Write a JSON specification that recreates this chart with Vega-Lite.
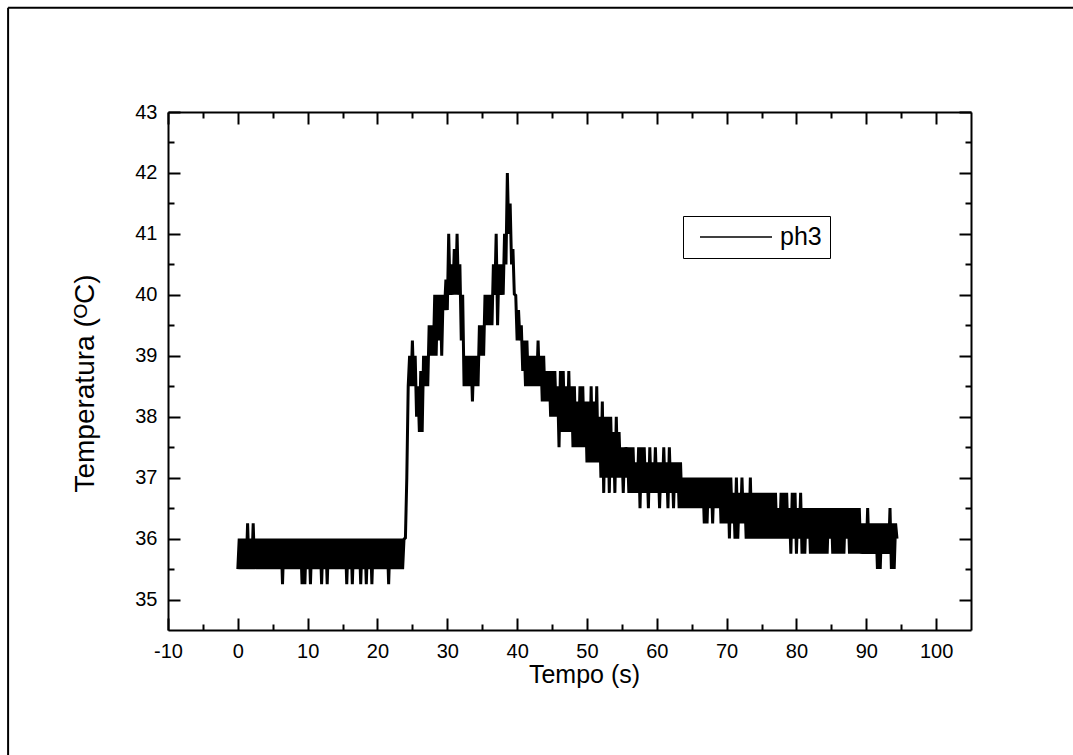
{
  "$schema": "https://vega.github.io/schema/vega-lite/v6.json",
  "width": 803,
  "height": 518,
  "autosize": "none",
  "padding": {"left": 168, "top": 112, "right": 102, "bottom": 125},
  "background": "white",
  "config": {
    "font": "Liberation Sans",
    "view": {"stroke": null},
    "axis": {
      "grid": false,
      "domainColor": "black",
      "domainWidth": 2,
      "tickColor": "black",
      "tickWidth": 2,
      "labelColor": "black",
      "labelFont": "Liberation Sans",
      "labelFontSize": 20,
      "labelFlush": false,
      "titleFont": "Liberation Sans",
      "titleFontWeight": "normal",
      "titleColor": "black"
    },
    "legend": {"labelFont": "Liberation Sans"}
  },
  "datasets": {
    "ph": [
      {"t":0,"v":35.5},{"t":0.2,"v":36},{"t":0.4,"v":35.5},{"t":0.6,"v":36},{"t":0.8,"v":35.5},{"t":1,"v":36},{"t":1.2,"v":35.5},{"t":1.4,"v":36.25},{"t":1.6,"v":35.5},{"t":1.8,"v":36},
      {"t":2,"v":35.5},{"t":2.2,"v":36.25},{"t":2.4,"v":35.5},{"t":2.6,"v":36},{"t":2.8,"v":35.5},{"t":3,"v":36},{"t":3.2,"v":35.5},{"t":3.4,"v":36},{"t":3.6,"v":35.5},{"t":3.8,"v":36},
      {"t":4,"v":35.5},{"t":4.2,"v":36},{"t":4.4,"v":35.5},{"t":4.6,"v":36},{"t":4.8,"v":35.5},{"t":5,"v":36},{"t":5.2,"v":35.5},{"t":5.4,"v":36},{"t":5.6,"v":35.5},{"t":5.8,"v":36},
      {"t":6,"v":35.5},{"t":6.2,"v":36},{"t":6.4,"v":35.25},{"t":6.6,"v":36},{"t":6.8,"v":35.5},{"t":7,"v":36},{"t":7.2,"v":35.5},{"t":7.4,"v":36},{"t":7.6,"v":35.5},{"t":7.8,"v":36},
      {"t":8,"v":35.5},{"t":8.2,"v":36},{"t":8.4,"v":35.5},{"t":8.6,"v":36},{"t":8.8,"v":35.5},{"t":9,"v":36},{"t":9.2,"v":35.25},{"t":9.4,"v":36},{"t":9.6,"v":35.25},{"t":9.8,"v":36},
      {"t":10,"v":35.5},{"t":10.2,"v":36},{"t":10.4,"v":35.25},{"t":10.6,"v":36},{"t":10.8,"v":35.5},{"t":11,"v":36},{"t":11.2,"v":35.5},{"t":11.4,"v":36},{"t":11.6,"v":35.5},{"t":11.8,"v":36},
      {"t":12,"v":35.25},{"t":12.2,"v":36},{"t":12.4,"v":35.5},{"t":12.6,"v":36},{"t":12.8,"v":35.25},{"t":13,"v":36},{"t":13.2,"v":35.5},{"t":13.4,"v":36},{"t":13.6,"v":35.5},{"t":13.8,"v":36},
      {"t":14,"v":35.5},{"t":14.2,"v":36},{"t":14.4,"v":35.5},{"t":14.6,"v":36},{"t":14.8,"v":35.5},{"t":15,"v":36},{"t":15.2,"v":35.5},{"t":15.4,"v":36},{"t":15.6,"v":35.25},{"t":15.8,"v":36},
      {"t":16,"v":35.5},{"t":16.2,"v":36},{"t":16.4,"v":35.25},{"t":16.6,"v":36},{"t":16.8,"v":35.5},{"t":17,"v":36},{"t":17.2,"v":35.5},{"t":17.4,"v":36},{"t":17.6,"v":35.25},{"t":17.8,"v":36},
      {"t":18,"v":35.5},{"t":18.2,"v":36},{"t":18.4,"v":35.25},{"t":18.6,"v":36},{"t":18.8,"v":35.5},{"t":19,"v":36},{"t":19.2,"v":35.25},{"t":19.4,"v":36},{"t":19.6,"v":35.5},{"t":19.8,"v":36},
      {"t":20,"v":35.5},{"t":20.2,"v":36},{"t":20.4,"v":35.5},{"t":20.6,"v":36},{"t":20.8,"v":35.5},{"t":21,"v":36},{"t":21.2,"v":35.5},{"t":21.4,"v":36},{"t":21.6,"v":35.25},{"t":21.8,"v":36},
      {"t":22,"v":35.5},{"t":22.2,"v":36},{"t":22.4,"v":35.5},{"t":22.6,"v":36},{"t":22.8,"v":35.5},{"t":23,"v":36},{"t":23.2,"v":35.5},{"t":23.4,"v":36},{"t":23.6,"v":35.5},{"t":23.8,"v":36},
      {"t":24,"v":36},{"t":24.2,"v":37},{"t":24.4,"v":38.5},{"t":24.6,"v":39},{"t":24.8,"v":38.5},{"t":25,"v":39.25},{"t":25.2,"v":38.5},{"t":25.4,"v":39},{"t":25.6,"v":38},{"t":25.8,"v":38.5},
      {"t":26,"v":37.75},{"t":26.2,"v":38.75},{"t":26.4,"v":37.75},{"t":26.6,"v":39},{"t":26.8,"v":38.5},{"t":27,"v":39},{"t":27.2,"v":38.5},{"t":27.4,"v":39.5},{"t":27.6,"v":39},{"t":27.8,"v":39.5},
      {"t":28,"v":39},{"t":28.2,"v":40},{"t":28.4,"v":39},{"t":28.6,"v":40},{"t":28.8,"v":39.25},{"t":29,"v":40},{"t":29.2,"v":39},{"t":29.4,"v":40},{"t":29.6,"v":39.75},{"t":29.8,"v":40.25},
      {"t":30,"v":39.75},{"t":30.2,"v":41},{"t":30.4,"v":40},{"t":30.6,"v":40.5},{"t":30.8,"v":40},{"t":31,"v":40.75},{"t":31.2,"v":40},{"t":31.4,"v":41},{"t":31.6,"v":40},{"t":31.8,"v":40.5},
      {"t":32,"v":39.25},{"t":32.2,"v":40},{"t":32.4,"v":38.5},{"t":32.6,"v":39},{"t":32.8,"v":38.5},{"t":33,"v":39},{"t":33.2,"v":38.5},{"t":33.4,"v":39},{"t":33.6,"v":38.25},{"t":33.8,"v":39},
      {"t":34,"v":38.5},{"t":34.2,"v":39},{"t":34.4,"v":38.5},{"t":34.6,"v":39.5},{"t":34.8,"v":39},{"t":35,"v":39.5},{"t":35.2,"v":39},{"t":35.4,"v":40},{"t":35.6,"v":39.5},{"t":35.8,"v":40},
      {"t":36,"v":39.5},{"t":36.2,"v":40},{"t":36.4,"v":39.5},{"t":36.6,"v":40.5},{"t":36.8,"v":40},{"t":37,"v":41},{"t":37.2,"v":39.5},{"t":37.4,"v":40.5},{"t":37.6,"v":40},{"t":37.8,"v":40.5},
      {"t":38,"v":40},{"t":38.2,"v":41},{"t":38.4,"v":40.5},{"t":38.6,"v":42},{"t":38.8,"v":41},{"t":39,"v":41.5},{"t":39.2,"v":40.5},{"t":39.4,"v":40.75},{"t":39.6,"v":40},{"t":39.8,"v":40},
      {"t":40,"v":39.25},{"t":40.2,"v":39.75},{"t":40.4,"v":39.25},{"t":40.6,"v":39.5},{"t":40.8,"v":38.75},{"t":41,"v":39.25},{"t":41.2,"v":38.5},{"t":41.4,"v":39.25},{"t":41.6,"v":38.5},{"t":41.8,"v":39},
      {"t":42,"v":38.5},{"t":42.2,"v":39},{"t":42.4,"v":38.5},{"t":42.6,"v":39},{"t":42.8,"v":38.5},{"t":43,"v":39.25},{"t":43.2,"v":38.5},{"t":43.4,"v":39},{"t":43.6,"v":38.25},{"t":43.8,"v":39},
      {"t":44,"v":38.25},{"t":44.2,"v":38.75},{"t":44.4,"v":38.25},{"t":44.6,"v":38.75},{"t":44.8,"v":38},{"t":45,"v":38.75},{"t":45.2,"v":38},{"t":45.4,"v":38.75},{"t":45.6,"v":38},{"t":45.8,"v":38.5},
      {"t":46,"v":37.5},{"t":46.2,"v":38.75},{"t":46.4,"v":37.75},{"t":46.6,"v":38.75},{"t":46.8,"v":37.75},{"t":47,"v":38.5},{"t":47.2,"v":37.75},{"t":47.4,"v":38.75},{"t":47.6,"v":37.75},{"t":47.8,"v":38.5},
      {"t":48,"v":37.5},{"t":48.2,"v":38.5},{"t":48.4,"v":37.5},{"t":48.6,"v":38.25},{"t":48.8,"v":37.5},{"t":49,"v":38.5},{"t":49.2,"v":37.5},{"t":49.4,"v":38.5},{"t":49.6,"v":37.5},{"t":49.8,"v":38.25},
      {"t":50,"v":37.25},{"t":50.2,"v":38.25},{"t":50.4,"v":37.25},{"t":50.6,"v":38.5},{"t":50.8,"v":37.25},{"t":51,"v":38.25},{"t":51.2,"v":37.25},{"t":51.4,"v":38.5},{"t":51.6,"v":37.25},{"t":51.8,"v":38},
      {"t":52,"v":37},{"t":52.2,"v":38.25},{"t":52.4,"v":36.75},{"t":52.6,"v":38},{"t":52.8,"v":37},{"t":53,"v":38},{"t":53.2,"v":36.75},{"t":53.4,"v":38},{"t":53.6,"v":37},{"t":53.8,"v":37.75},
      {"t":54,"v":36.75},{"t":54.2,"v":38},{"t":54.4,"v":37},{"t":54.6,"v":37.75},{"t":54.8,"v":37},{"t":55,"v":37.5},{"t":55.2,"v":36.75},{"t":55.4,"v":37.5},{"t":55.6,"v":37},{"t":55.8,"v":37.5},
      {"t":56,"v":36.75},{"t":56.2,"v":37.5},{"t":56.4,"v":36.75},{"t":56.6,"v":37.5},{"t":56.8,"v":36.75},{"t":57,"v":37.25},{"t":57.2,"v":36.75},{"t":57.4,"v":37.5},{"t":57.6,"v":36.5},{"t":57.8,"v":37.5},
      {"t":58,"v":36.75},{"t":58.2,"v":37.5},{"t":58.4,"v":36.75},{"t":58.6,"v":37.25},{"t":58.8,"v":36.5},{"t":59,"v":37.5},{"t":59.2,"v":36.75},{"t":59.4,"v":37.25},{"t":59.6,"v":36.75},{"t":59.8,"v":37.5},
      {"t":60,"v":36.75},{"t":60.2,"v":37.25},{"t":60.4,"v":36.5},{"t":60.6,"v":37.25},{"t":60.8,"v":36.75},{"t":61,"v":37.5},{"t":61.2,"v":36.75},{"t":61.4,"v":37.25},{"t":61.6,"v":36.5},{"t":61.8,"v":37.5},
      {"t":62,"v":36.75},{"t":62.2,"v":37.25},{"t":62.4,"v":36.5},{"t":62.6,"v":37.25},{"t":62.8,"v":36.75},{"t":63,"v":37.25},{"t":63.2,"v":36.5},{"t":63.4,"v":37.25},{"t":63.6,"v":36.5},{"t":63.8,"v":37},
      {"t":64,"v":36.5},{"t":64.2,"v":37},{"t":64.4,"v":36.5},{"t":64.6,"v":37},{"t":64.8,"v":36.5},{"t":65,"v":37},{"t":65.2,"v":36.5},{"t":65.4,"v":37},{"t":65.6,"v":36.5},{"t":65.8,"v":37},
      {"t":66,"v":36.5},{"t":66.2,"v":37},{"t":66.4,"v":36.5},{"t":66.6,"v":37},{"t":66.8,"v":36.25},{"t":67,"v":37},{"t":67.2,"v":36.25},{"t":67.4,"v":37},{"t":67.6,"v":36.5},{"t":67.8,"v":37},
      {"t":68,"v":36.25},{"t":68.2,"v":37},{"t":68.4,"v":36.5},{"t":68.6,"v":37},{"t":68.8,"v":36.5},{"t":69,"v":37},{"t":69.2,"v":36.25},{"t":69.4,"v":37},{"t":69.6,"v":36.25},{"t":69.8,"v":37},
      {"t":70,"v":36.25},{"t":70.2,"v":37},{"t":70.4,"v":36},{"t":70.6,"v":37},{"t":70.8,"v":36.25},{"t":71,"v":36.75},{"t":71.2,"v":36},{"t":71.4,"v":37},{"t":71.6,"v":36},{"t":71.8,"v":36.75},
      {"t":72,"v":36.25},{"t":72.2,"v":37},{"t":72.4,"v":36.25},{"t":72.6,"v":36.75},{"t":72.8,"v":36},{"t":73,"v":36.75},{"t":73.2,"v":36},{"t":73.4,"v":37},{"t":73.6,"v":36},{"t":73.8,"v":36.75},
      {"t":74,"v":36},{"t":74.2,"v":36.75},{"t":74.4,"v":36},{"t":74.6,"v":36.75},{"t":74.8,"v":36},{"t":75,"v":36.75},{"t":75.2,"v":36},{"t":75.4,"v":36.75},{"t":75.6,"v":36},{"t":75.8,"v":36.75},
      {"t":76,"v":36},{"t":76.2,"v":36.75},{"t":76.4,"v":36},{"t":76.6,"v":36.75},{"t":76.8,"v":36},{"t":77,"v":36.75},{"t":77.2,"v":36},{"t":77.4,"v":36.5},{"t":77.6,"v":36},{"t":77.8,"v":36.75},
      {"t":78,"v":36},{"t":78.2,"v":36.75},{"t":78.4,"v":36},{"t":78.6,"v":36.75},{"t":78.8,"v":36},{"t":79,"v":36.5},{"t":79.2,"v":35.75},{"t":79.4,"v":36.75},{"t":79.6,"v":36},{"t":79.8,"v":36.75},
      {"t":80,"v":35.75},{"t":80.2,"v":36.5},{"t":80.4,"v":36},{"t":80.6,"v":36.75},{"t":80.8,"v":35.75},{"t":81,"v":36.5},{"t":81.2,"v":35.75},{"t":81.4,"v":36.5},{"t":81.6,"v":36},{"t":81.8,"v":36.5},
      {"t":82,"v":35.75},{"t":82.2,"v":36.5},{"t":82.4,"v":35.75},{"t":82.6,"v":36.5},{"t":82.8,"v":35.75},{"t":83,"v":36.5},{"t":83.2,"v":35.75},{"t":83.4,"v":36.5},{"t":83.6,"v":35.75},{"t":83.8,"v":36.5},
      {"t":84,"v":35.75},{"t":84.2,"v":36.5},{"t":84.4,"v":35.75},{"t":84.6,"v":36.5},{"t":84.8,"v":36},{"t":85,"v":36.5},{"t":85.2,"v":35.75},{"t":85.4,"v":36.5},{"t":85.6,"v":35.75},{"t":85.8,"v":36.5},
      {"t":86,"v":35.75},{"t":86.2,"v":36.5},{"t":86.4,"v":35.75},{"t":86.6,"v":36.5},{"t":86.8,"v":35.75},{"t":87,"v":36.5},{"t":87.2,"v":36},{"t":87.4,"v":36.5},{"t":87.6,"v":35.75},{"t":87.8,"v":36.5},
      {"t":88,"v":35.75},{"t":88.2,"v":36.5},{"t":88.4,"v":35.75},{"t":88.6,"v":36.5},{"t":88.8,"v":35.75},{"t":89,"v":36.5},{"t":89.2,"v":35.75},{"t":89.4,"v":36.25},{"t":89.6,"v":35.75},{"t":89.8,"v":36.25},
      {"t":90,"v":35.75},{"t":90.2,"v":36.5},{"t":90.4,"v":35.75},{"t":90.6,"v":36.25},{"t":90.8,"v":35.75},{"t":91,"v":36.25},{"t":91.2,"v":35.75},{"t":91.4,"v":36.25},{"t":91.6,"v":35.5},{"t":91.8,"v":36.25},
      {"t":92,"v":35.5},{"t":92.2,"v":36.25},{"t":92.4,"v":35.75},{"t":92.6,"v":36.25},{"t":92.8,"v":35.75},{"t":93,"v":36.25},{"t":93.2,"v":35.75},{"t":93.4,"v":36.5},{"t":93.6,"v":35.5},{"t":93.8,"v":36.25},
      {"t":94,"v":35.5},{"t":94.2,"v":36.25},{"t":94.4,"v":36}
    ]
  },
  "layer": [
    {
      "data": {"name": "ph"},
      "mark": {"type": "line", "strokeWidth": 3, "strokeJoin": "bevel", "clip": true},
      "encoding": {
        "x": {
          "field": "t", "type": "quantitative",
          "scale": {"domain": [-10, 105], "nice": false, "zero": false},
          "axis": {
            "orient": "bottom",
            "values": [-10,-5,0,5,10,15,20,25,30,35,40,45,50,55,60,65,70,75,80,85,90,95,100],
            "tickSize": {"condition": {"test": "datum.value % 10 === 0", "value": -12}, "value": -6},
            "labelExpr": "datum.value % 10 === 0 ? '' + datum.value : ''",
            "labelFontSize": 20,
            "labelFlush": false,
            "labelPadding": 23,
            "title": "Tempo (s)",
            "titleFontSize": 25,
            "titleBaseline": "alphabetic",
            "titleX": 416,
            "titleY": 52
          }
        },
        "y": {
          "field": "v", "type": "quantitative",
          "scale": {"domain": [34.5, 43], "nice": false, "zero": false},
          "axis": {
            "orient": "left",
            "values": [35,35.5,36,36.5,37,37.5,38,38.5,39,39.5,40,40.5,41,41.5,42,42.5,43],
            "tickSize": {"condition": {"test": "datum.value % 1 === 0", "value": -12}, "value": -6},
            "labelExpr": "datum.value % 1 === 0 ? '' + datum.value : ''",
            "labelFontSize": 20,
            "labelFlush": false,
            "labelPadding": 23,
            "title": "Temperatura (ᴼC)",
            "titleFontSize": 28,
            "titleBaseline": "alphabetic",
            "titleAngle": -90,
            "titleX": -75,
            "titleY": 271
          }
        },
        "color": {
          "datum": "ph3",
          "scale": {"range": ["black"]},
          "legend": {
            "title": null,
            "orient": "none",
            "legendX": 515,
            "legendY": 104,
            "strokeColor": "black",
            "padding": 8,
            "symbolType": "M-3,0H3",
            "symbolSize": 576,
            "symbolStrokeWidth": 1.6,
            "symbolOffset": 32,
            "labelFontSize": 25,
            "labelColor": "black",
            "labelOffset": 31
          }
        }
      }
    },
    {
      "data": {"name": "ph"},
      "mark": {"type": "line", "opacity": 0},
      "encoding": {
        "x": {
          "field": "t", "type": "quantitative",
          "scale": {"domain": [-10, 105], "nice": false, "zero": false},
          "axis": {
            "orient": "top",
            "values": [-10,-5,0,5,10,15,20,25,30,35,40,45,50,55,60,65,70,75,80,85,90,95,100],
            "tickSize": {"condition": {"test": "datum.value % 10 === 0", "value": -12}, "value": -6},
            "labels": false,
            "title": null
          }
        },
        "y": {
          "field": "v", "type": "quantitative",
          "scale": {"domain": [34.5, 43], "nice": false, "zero": false},
          "axis": {
            "orient": "right",
            "values": [35,35.5,36,36.5,37,37.5,38,38.5,39,39.5,40,40.5,41,41.5,42,42.5,43],
            "tickSize": {"condition": {"test": "datum.value % 1 === 0", "value": -12}, "value": -6},
            "labels": false,
            "title": null
          }
        }
      }
    },
    {
      "data": {"values": [{}]},
      "mark": {"type": "rule", "color": "black", "strokeWidth": 2},
      "encoding": {
        "x": {"datum": -32.9, "type": "quantitative", "scale": {"domain": [-10, 105], "nice": false, "zero": false}, "axis": null},
        "y": {"datum": 44.71, "type": "quantitative", "scale": {"domain": [34.5, 43], "nice": false, "zero": false}, "axis": null},
        "y2": {"datum": 30}
      }
    },
    {
      "data": {"values": [{}]},
      "mark": {"type": "rule", "color": "black", "strokeWidth": 2},
      "encoding": {
        "x": {"datum": -32.9, "type": "quantitative", "scale": {"domain": [-10, 105], "nice": false, "zero": false}, "axis": null},
        "x2": {"datum": 130},
        "y": {"datum": 44.71, "type": "quantitative", "scale": {"domain": [34.5, 43], "nice": false, "zero": false}, "axis": null}
      }
    }
  ],
  "resolve": {"axis": {"x": "independent", "y": "independent"}}
}
